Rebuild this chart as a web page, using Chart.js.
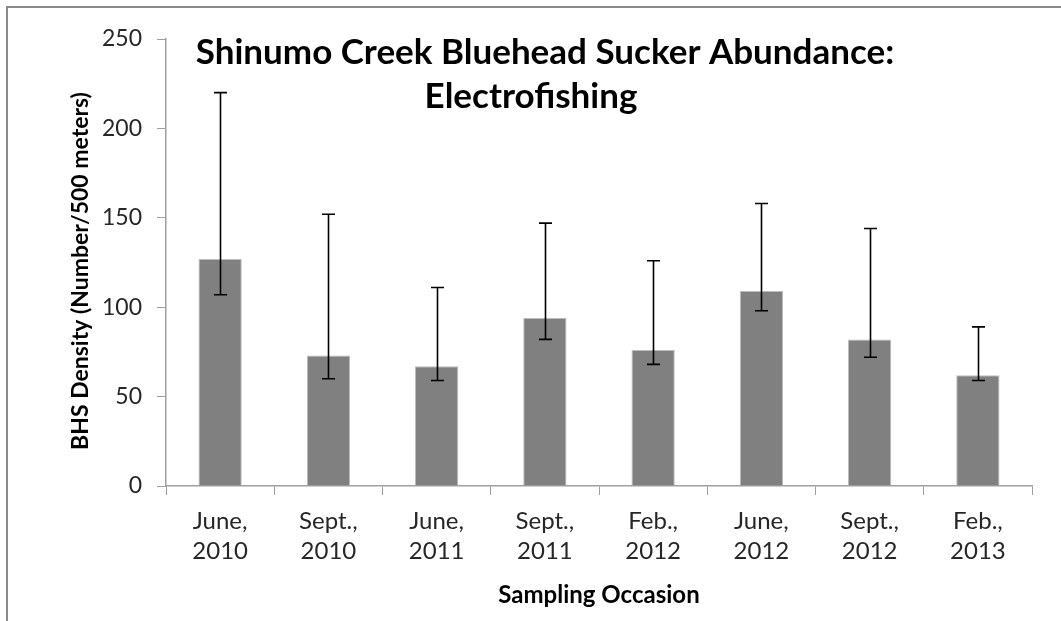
<!DOCTYPE html>
<html>
<head>
<meta charset="utf-8">
<script src="https://cdn.jsdelivr.net/npm/chart.js@4/dist/chart.umd.min.js"></script>
<style>
  html, body { margin: 0; padding: 0; background: #fff; }
  #wrap { position: relative; width: 1061px; height: 621px; overflow: hidden; }
  #frame { position: absolute; left: 6px; top: 6px; width: 1100px; height: 700px;
           border-top: 2px solid #8a8a8a; border-left: 2px solid #8a8a8a; }
  canvas { position: absolute; left: 0; top: 0; }
</style>
</head>
<body>
<div id="wrap">
  <div id="frame"></div>
  <canvas id="c" width="1061" height="621"></canvas>
</div>
<script>
const categories = [
  ["June,", "2010"], ["Sept.,", "2010"], ["June,", "2011"], ["Sept.,", "2011"],
  ["Feb.,", "2012"], ["June,", "2012"], ["Sept.,", "2012"], ["Feb.,", "2013"]
];
const density   = [127, 73, 67, 94, 76, 109, 82, 62];
const errorLow  = [107, 60, 59, 82, 68, 98, 72, 59];
const errorHigh = [220, 152, 111, 147, 126, 158, 144, 89];
const yTicks = [0, 50, 100, 150, 200, 250];
const titleLines = ["Shinumo Creek Bluehead Sucker Abundance:", "Electrofishing"];
const yTitle = "BHS Density (Number/500 meters)";
const xTitle = "Sampling Occasion";

const FONT = "Lato, 'Open Sans', sans-serif";

const errorBarPlugin = {
  id: 'errorBars',
  afterDatasetsDraw(chart) {
    const ctx = chart.ctx;
    const x = chart.scales.x, y = chart.scales.y;
    ctx.save();
    ctx.strokeStyle = '#000';
    ctx.lineWidth = 1.6;
    for (let i = 0; i < density.length; i++) {
      const px = Math.round(x.getPixelForValue(i)) + 0.5;
      const top = y.getPixelForValue(errorHigh[i]);
      const bot = y.getPixelForValue(errorLow[i]);
      ctx.beginPath();
      ctx.moveTo(px, top); ctx.lineTo(px, bot);
      ctx.moveTo(px - 6.5, top); ctx.lineTo(px + 6.5, top);
      ctx.moveTo(px - 6.5, bot); ctx.lineTo(px + 6.5, bot);
      ctx.stroke();
    }
    ctx.restore();
  }
};

const textPlugin = {
  id: 'texts',
  afterDraw(chart) {
    const ctx = chart.ctx;
    ctx.save();
    ctx.fillStyle = '#000';
    ctx.textAlign = 'center';
    ctx.textBaseline = 'middle';
    ctx.font = "bold 35px " + FONT;
    ctx.fillText(titleLines[0], 545, 53);
    ctx.fillText(titleLines[1], 531, 97);
    ctx.font = "bold 24px " + FONT;
    ctx.fillText(xTitle, 599, 595);
    ctx.font = "bold 23px " + FONT;
    ctx.translate(81, 271);
    ctx.rotate(-Math.PI / 2);
    ctx.fillText(yTitle, 0, 0);
    ctx.restore();
  }
};

new Chart(document.getElementById('c'), {
  type: 'bar',
  data: {
    labels: categories,
    datasets: [{
      data: density,
      backgroundColor: '#808080',
      borderColor: '#bdbdbd',
      borderWidth: 1,
      barPercentage: 0.4,
      categoryPercentage: 1.0
    }]
  },
  options: {
    responsive: false,
    animation: false,
    devicePixelRatio: 1,
    layout: { padding: { left: 0, right: 29, top: 39, bottom: 0 } },
    plugins: { legend: { display: false }, title: { display: false }, tooltip: { enabled: false } },
    scales: {
      x: {
        afterFit(s) { s.height = 135; },
        grid: { offset: true, drawOnChartArea: false, color: '#a0a0a0', tickLength: 9, lineWidth: 1 },
        border: { color: '#a0a0a0', width: 1.5 },
        ticks: { color: '#262626', font: { family: FONT, size: 24, lineHeight: 1.25 }, padding: 11, maxRotation: 0, autoSkip: false }
      },
      y: {
        min: 0, max: 250,
        afterFit(s) { s.width = 166; },
        afterBuildTicks(s) { s.ticks = yTicks.map(v => ({ value: v })); },
        grid: { drawOnChartArea: false, color: '#a0a0a0', tickLength: 9 },
        border: { color: '#a0a0a0', width: 1.5 },
        ticks: { color: '#262626', font: { family: FONT, size: 23 }, padding: 15 }
      }
    }
  },
  plugins: [errorBarPlugin, textPlugin]
});
</script>
</body>
</html>
